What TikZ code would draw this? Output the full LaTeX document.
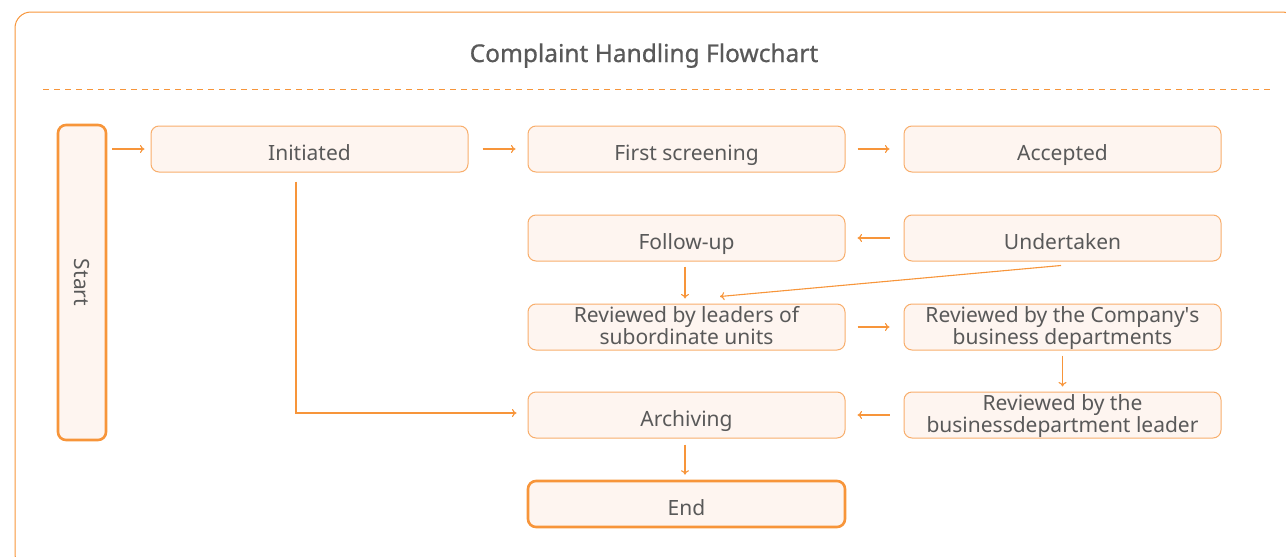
\documentclass[tikz,border=0pt]{standalone}
\usepackage{fontspec}
\setmainfont{Noto Sans}
\newfontfamily\titlefont[FakeBold=0.8]{Noto Sans}
\newfontfamily\rawfont[Ligatures=ResetAll]{Noto Sans}
\newcommand{\straightquote}{{\rawfont\char"27}}
\usetikzlibrary{arrows.meta,calc}
\definecolor{brand}{HTML}{F7953A}
\definecolor{edgelt}{HTML}{F8AE6C}
\definecolor{boxfill}{HTML}{FEF5F0}
\definecolor{ink}{HTML}{595959}
\begin{document}
\begin{tikzpicture}[x=1pt,y=-1pt,
  stepbox/.style={draw=edgelt, line width=1pt, fill=boxfill, rounded corners=8pt,
    minimum width=317pt, minimum height=46pt, inner sep=0pt, text=ink,
    font=\fontsize{21}{20}\selectfont, align=center,
    text height=22pt, text depth=0pt},
  twoline/.style={text height=34pt, text depth=0pt},
  termbox/.style={stepbox, draw=brand, line width=2.6pt},
  flow/.style={draw=brand, line width=1.1pt, -{To[length=4.5pt,width=8pt]}}]
\useasboundingbox (0,0) rectangle (1286,557);
\clip (0,0) rectangle (1286,557);

% outer frame and header
\draw[brand, line width=1pt, rounded corners=16pt] (15,12) rectangle (1298,570);
\node[font=\titlefont\fontsize{24.5}{26}\selectfont, text=ink, anchor=base] (title) at (644,62) {Complaint Handling Flowchart};
\coordinate (ruleL) at (43,89);
\coordinate (ruleR) at (1273,89);
\draw[brand, line width=1pt, dash pattern=on 6pt off 5pt] (ruleL) -- (ruleR);

% process steps
\node[termbox, rotate=-90, minimum width=315pt, minimum height=48pt, text height=16pt] (start) at (82,282.5) {Start};
\node[stepbox] (init)   at (309.5,149) {Initiated};
\node[stepbox] (screen) at (686.5,149) {First screening};
\node[stepbox] (accept) at (1062.5,149) {Accepted};
\node[stepbox] (follow) at (686.5,238) {Follow-up};
\node[stepbox] (under)  at (1062.5,238) {Undertaken};
\node[stepbox, twoline] (lead)   at (686.5,327) {Reviewed by leaders of\\subordinate units};
\node[stepbox, twoline] (dept)   at (1062.5,327) {Reviewed by the Company\straightquote s\\business departments};
\node[stepbox] (arch)   at (686.5,415) {Archiving};
\node[stepbox, twoline] (bizlead) at (1062.5,415) {Reviewed by the\\businessdepartment leader};
\node[termbox] (fin)    at (686.5,504) {End};

% connectors (canvas shifts: negative yshift points down)
\draw[flow] ([xshift=5pt]start.north |- init.west) -- ([xshift=-6pt]init.west);
\draw[flow] ([xshift=14pt]init.east) -- ([xshift=-12pt]screen.west);
\draw[flow] ([xshift=12pt]screen.east) -- ([xshift=-14pt]accept.west);
\draw[flow] ([xshift=-14pt]under.west) -- ([xshift=12pt]follow.east);
\draw[flow] ([xshift=-1.5pt,yshift=-5pt]follow.south) -- ([xshift=-1.5pt,yshift=5pt]lead.north);
\draw[flow] ([xshift=-1.5pt,yshift=-4pt]under.south) -- ([xshift=33.5pt,yshift=7pt]lead.north);
\draw[flow] ([xshift=12pt]lead.east) -- ([xshift=-14pt]dept.west);
\draw[flow] ([yshift=-5pt]dept.south) -- ([yshift=5pt]bizlead.north);
\draw[flow] ([xshift=-14pt]bizlead.west) -- ([xshift=12pt]arch.east);
\draw[flow] ([xshift=-13.5pt,yshift=-9pt]init.south) |- ([xshift=-11pt,yshift=2pt]arch.west);
\draw[flow] ([xshift=-1.5pt,yshift=-6pt]arch.south) -- ([xshift=-1.5pt,yshift=5pt]fin.north);
\end{tikzpicture}
\end{document}
